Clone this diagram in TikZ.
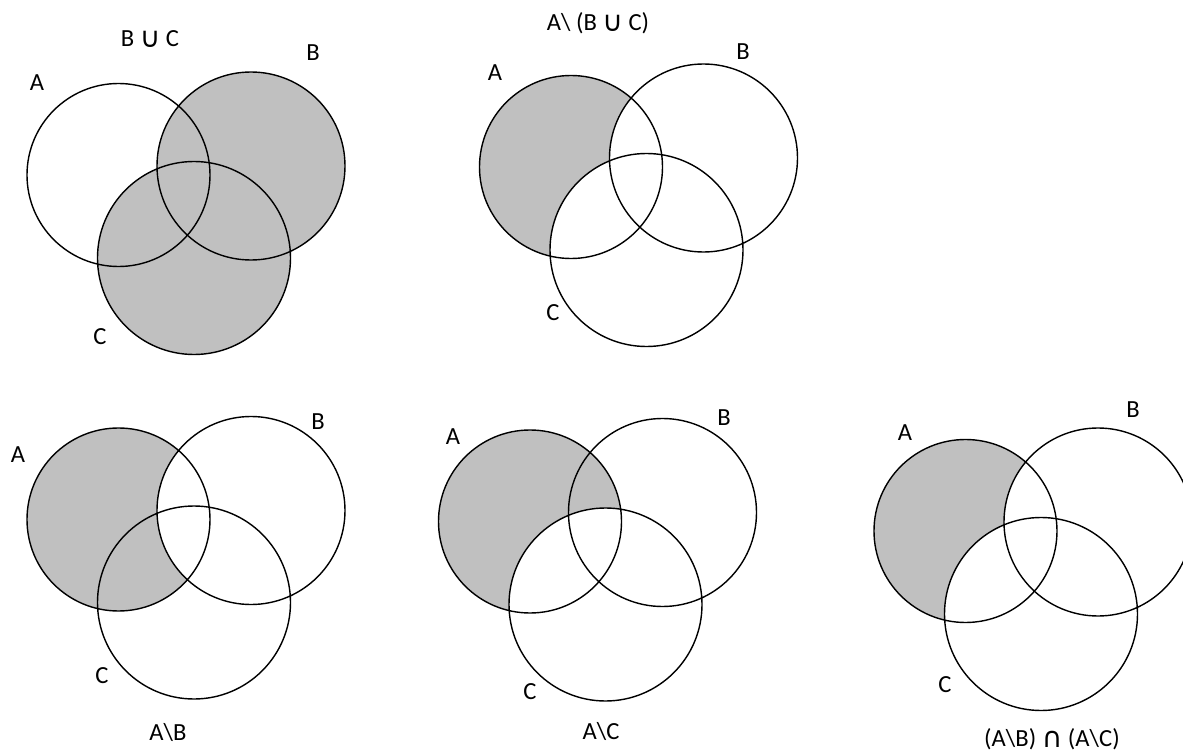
\documentclass[tikz,border=0pt]{standalone}
\usepackage{fontspec}
\setmainfont{Carlito}
\newfontfamily\symfont{DejaVu Sans}
\usetikzlibrary{positioning}

\definecolor{setgray}{RGB}{192,192,192}
\tikzset{
  setline/.style={draw=black,line width=0.8pt},
  setfill/.style={fill=setgray},
  setclear/.style={fill=white},
  lbl/.style={font=\fontsize{14}{16}\selectfont,inner sep=0pt},
}
\newcommand{\cupsym}{\raisebox{-0.05em}{\fontsize{16}{16}\symfont ∪}}
\newcommand{\capsym}{\raisebox{-0.05em}{\fontsize{16}{16}\symfont ∩}}
\newcommand{\bsl}{\textbackslash}
% centres of the three sets, relative to A
\newcommand{\threesets}{%
  \coordinate (A) at (0,0);
  \coordinate (B) at (2.65,0.18);
  \coordinate (C) at (1.51,-1.66);}
\newcommand{\ra}{1.83}
\newcommand{\rb}{1.88}
\newcommand{\rc}{1.93}
\newcommand{\drawsets}{%
  \draw[setline] (A) circle (\ra) (B) circle (\rb) (C) circle (\rc);}

\begin{document}
\begin{tikzpicture}
  \path[use as bounding box,clip] (0,0) rectangle (23.66,-15.1);
  % B u C
  \begin{scope}[shift={(2.37,-3.5)}]
    \threesets
    \fill[setfill] (B) circle (\rb);
    \fill[setfill] (C) circle (\rc);
    \drawsets
  \end{scope}
  \node[lbl] (t1) at (3.0,-0.78) {B \cupsym{} C};
  \node[lbl] (a1) at (0.74,-1.66) {A};
  \node[lbl] (b1) at (6.26,-1.06) {B};
  \node[lbl] (c1) at (2.0,-6.74) {C};
  % A \ (B u C)
  \begin{scope}[shift={(11.42,-3.34)}]
    \threesets
    \fill[setfill] (A) circle (\ra);
    \fill[setclear] (B) circle (\rb);
    \fill[setclear] (C) circle (\rc);
    \drawsets
  \end{scope}
  \node[lbl] (t2) at (11.96,-0.46) {A\bsl{} (B \cupsym{} C)};
  \node[lbl] (a2) at (9.9,-1.46) {A};
  \node[lbl] (b2) at (14.86,-1.04) {B};
  \node[lbl] (c2) at (11.06,-6.26) {C};
  % A \ B
  \begin{scope}[shift={(2.37,-10.39)}]
    \threesets
    \fill[setfill] (A) circle (\ra);
    \fill[setclear] (B) circle (\rb);
    \drawsets
  \end{scope}
  \node[lbl] (a3) at (0.36,-9.1) {A};
  \node[lbl] (b3) at (6.36,-8.44) {B};
  \node[lbl] (c3) at (2.04,-13.52) {C};
  \node[lbl] (t3) at (3.36,-14.64) {A\bsl B};
  % A \ C
  \begin{scope}[shift={(10.6,-10.43)}]
    \threesets
    \fill[setfill] (A) circle (\ra);
    \fill[setclear] (C) circle (\rc);
    \drawsets
  \end{scope}
  \node[lbl] (a4) at (9.06,-8.74) {A};
  \node[lbl] (b4) at (14.48,-8.36) {B};
  \node[lbl] (c4) at (10.6,-13.84) {C};
  \node[lbl] (t4) at (12.02,-14.62) {A\bsl C};
  % (A \ B) n (A \ C)
  \begin{scope}[shift={(19.31,-10.62)}]
    \threesets
    \fill[setfill] (A) circle (\ra);
    \fill[setclear] (B) circle (\rb);
    \fill[setclear] (C) circle (\rc);
    \drawsets
  \end{scope}
  \node[lbl] (a5) at (18.1,-8.66) {A};
  \node[lbl] (b5) at (22.66,-8.2) {B};
  \node[lbl] (c5) at (18.9,-13.7) {C};
  \node[lbl] (t5) at (21.04,-14.78) {(A\bsl B) \capsym{} (A\bsl C)};
\end{tikzpicture}
\end{document}
